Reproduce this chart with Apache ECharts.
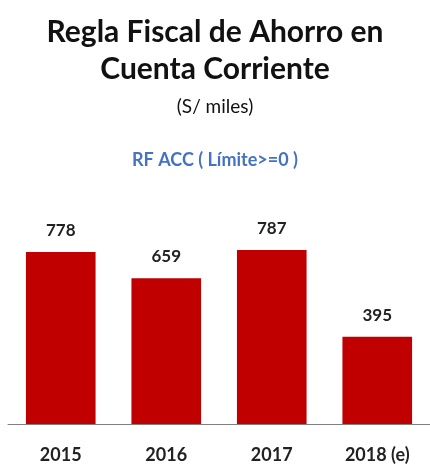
<!DOCTYPE html>
<html>
<head>
<meta charset="utf-8">
<script src="https://cdn.jsdelivr.net/npm/echarts@6/dist/echarts.min.js"></script>
<style>
  html, body { margin: 0; padding: 0; background: #fff; }
  #chart { width: 430px; height: 468px; }
</style>
</head>
<body>
<div id="chart"></div>
<script>
// data
const categories = ["2015", "2016", "2017", "2018 (e)"];
const values = [778, 659, 787, 395];

const FONT = "Lato";
const chart = echarts.init(document.getElementById("chart"));

chart.setOption({
    animation: false,
    title: [
        {
            text: "Regla Fiscal de Ahorro en\nCuenta Corriente",
            left: "center", top: 9,
            textStyle: { fontFamily: FONT, fontSize: 30, fontWeight: "bold", color: "#111", lineHeight: 37 }
        },
        {
            text: "(S/ miles)",
            left: "center", top: 92,
            textStyle: { fontFamily: FONT, fontSize: 19, fontWeight: "normal", color: "#111" }
        },
        {
            text: "RF ACC ( Límite>=0 )",
            left: "center", top: 146,
            textStyle: { fontFamily: FONT, fontSize: 18, fontWeight: "bold", color: "#4472C4" }
        }
    ],
    grid: { left: 8, right: 0, top: 203, bottom: 44 },
    xAxis: {
        type: "category",
        data: categories,
        axisLine: { lineStyle: { color: "#7f7f7f", width: 1 } },
        axisTick: { show: false },
        axisLabel: { fontFamily: FONT, fontSize: 18, fontWeight: "bold", color: "#222", margin: 22 }
    },
    yAxis: {
        type: "value", min: 0, max: 1000,
        show: false, splitLine: { show: false }
    },
    series: [{
        type: "bar",
        data: values,
        barCategoryGap: "34%",
        itemStyle: { color: "#C00000" },
        label: {
            show: true, position: "top", distance: 13,
            fontFamily: FONT, fontSize: 17, fontWeight: "bold", color: "#222"
        }
    }]
});
</script>
</body>
</html>
